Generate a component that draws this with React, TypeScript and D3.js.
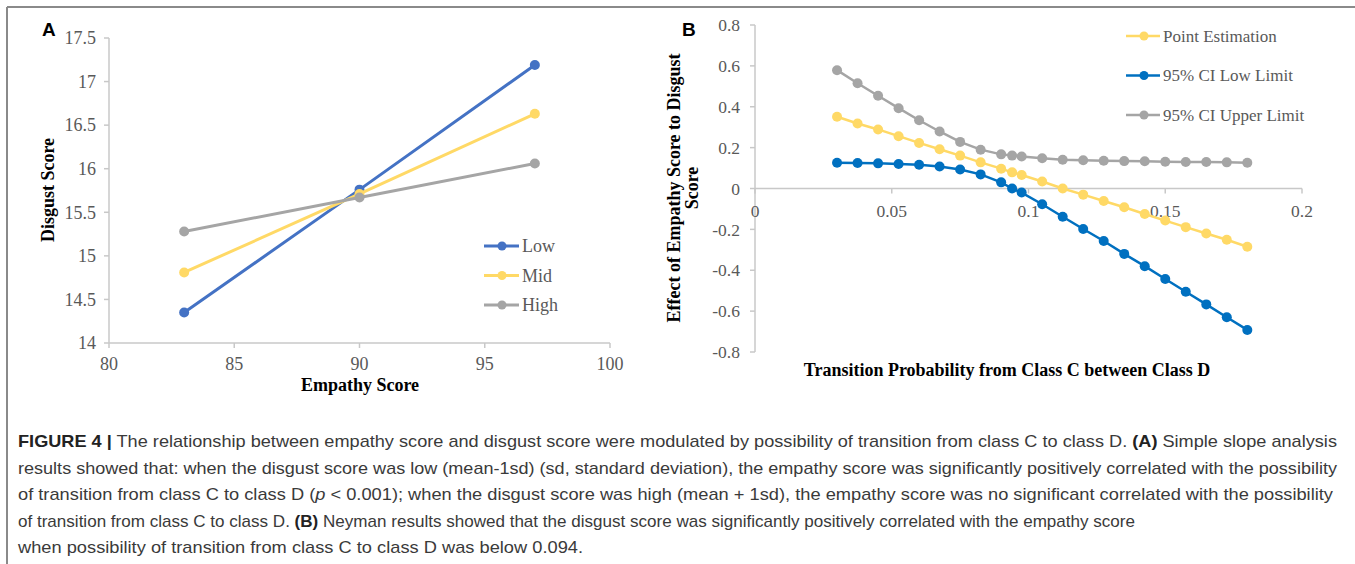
import React, { useEffect } from "react";
import * as d3 from "d3";

// panel A: simple slopes
const empathyX = [83, 90, 97];
const lowDisgust = [14.35, 15.76, 17.19];
const midDisgust = [14.81, 15.71, 16.63];
const highDisgust = [15.28, 15.67, 16.06];
const aXTicks = [80, 85, 90, 95, 100];
const aYTicks = [14, 14.5, 15, 15.5, 16, 16.5, 17, 17.5];

// panel B: Johnson-Neyman
const transProb = [
  0.03, 0.0375, 0.045, 0.0525, 0.06, 0.0675, 0.075, 0.0825, 0.09, 0.094, 0.0975,
  0.105, 0.1125, 0.12, 0.1275, 0.135, 0.1425, 0.15, 0.1575, 0.165, 0.1725, 0.18,
];
const pointEst = [
  0.351, 0.318, 0.289, 0.256, 0.223, 0.192, 0.161, 0.128, 0.097, 0.079, 0.066,
  0.034, 0.0, -0.03, -0.061, -0.092, -0.125, -0.157, -0.189, -0.22, -0.251, -0.285,
];
const ciLow = [
  0.126, 0.125, 0.123, 0.12, 0.116, 0.108, 0.093, 0.069, 0.03, 0.0, -0.02,
  -0.077, -0.138, -0.198, -0.257, -0.32, -0.38, -0.443, -0.505, -0.567, -0.63, -0.692,
];
const ciUpper = [
  0.579, 0.515, 0.454, 0.393, 0.334, 0.279, 0.228, 0.19, 0.167, 0.161, 0.157,
  0.148, 0.141, 0.138, 0.136, 0.134, 0.133, 0.131, 0.13, 0.13, 0.128, 0.126,
];
const bXTicks = [0, 0.05, 0.1, 0.15, 0.2];
const bYTicks = [-0.8, -0.6, -0.4, -0.2, 0, 0.2, 0.4, 0.6, 0.8];

const captionLines: [string, string][][] = [
  [
    ["FIGURE 4 |", "b"],
    [" The relationship between empathy score and disgust score were modulated by possibility of transition from class C to class D. ", "n"],
    ["(A)", "b"],
    [" Simple slope analysis", "n"],
  ],
  [["results showed that: when the disgust score was low (mean-1sd) (sd, standard deviation), the empathy score was significantly positively correlated with the possibility", "n"]],
  [
    ["of transition from class C to class D (", "n"],
    ["p", "i"],
    [" < 0.001); when the disgust score was high (mean + 1sd), the empathy score was no significant correlated with the possibility", "n"],
  ],
  [
    ["of transition from class C to class D. ", "n"],
    ["(B)", "b"],
    [" Neyman results showed that the disgust score was significantly positively correlated with the empathy score", "n"],
  ],
  [["when possibility of transition from class C to class D was below 0.094.", "n"]],
];
const captionEnds = [1337, 1337, 1333, 1135, 583];

const SERIF = "'Liberation Serif', 'Times New Roman', serif";
const SANS = "'Liberation Sans', Arial, sans-serif";
const AXIS = "#c8c8c8";
const TICK = "#595959";

const fmt = (v: number) => (v === 0 ? "0" : String(v));

export default function App() {
  useEffect(() => {
    document.body.style.margin = "0";
  }, []);

  // panel A scales
  const ax = d3.scaleLinear().domain([80, 100]).range([109, 610]);
  const ay = d3.scaleLinear().domain([14, 17.5]).range([343, 38]);
  const aLine = d3
    .line<number>()
    .x((_, i) => ax(empathyX[i]))
    .y((d) => ay(d));
  const aSeries = [
    { name: "Low", values: lowDisgust, color: "#4472c4" },
    { name: "Mid", values: midDisgust, color: "#ffd966" },
    { name: "High", values: highDisgust, color: "#a5a5a5" },
  ];

  // panel B scales
  const bx = d3.scaleLinear().domain([0, 0.2]).range([755, 1302]);
  const by = d3.scaleLinear().domain([-0.8, 0.8]).range([352, 25]);
  const bLine = d3
    .line<number>()
    .x((_, i) => bx(transProb[i]))
    .y((d) => by(d));
  const bSeries = [
    { name: "Point Estimation", values: pointEst, color: "#ffd966" },
    { name: "95% CI Low Limit", values: ciLow, color: "#0070c0" },
    { name: "95% CI Upper Limit", values: ciUpper, color: "#a5a5a5" },
  ];

  return (
    <svg width={1355} height={564} style={{ display: "block", background: "#fff" }}>
      {/* frame */}
      <line x1={7} y1={7} x2={1355} y2={7} stroke="#8a8a8a" strokeWidth={2} />
      <line x1={7} y1={7} x2={7} y2={564} stroke="#8a8a8a" strokeWidth={2} />

      {/* ---------- panel A ---------- */}
      <text x={42} y={36} fontFamily={SANS} fontWeight="bold" fontSize={19} fill="#000">A</text>
      <line x1={ax(80)} y1={ay(17.5)} x2={ax(80)} y2={ay(14)} stroke={AXIS} strokeWidth={1.5} />
      <line x1={ax(80)} y1={ay(14)} x2={ax(100)} y2={ay(14)} stroke={AXIS} strokeWidth={1.5} />
      {aYTicks.map((t) => (
        <g key={"ay" + t}>
          <line x1={ax(80) - 5} x2={ax(80)} y1={ay(t)} y2={ay(t)} stroke={AXIS} strokeWidth={1.5} />
          <text x={ax(80) - 13} y={ay(t)} dy="0.35em" textAnchor="end" fontFamily={SERIF} fontSize={18} fill={TICK}>
            {t}
          </text>
        </g>
      ))}
      {aXTicks.map((t) => (
        <g key={"ax" + t}>
          <line x1={ax(t)} x2={ax(t)} y1={ay(14)} y2={ay(14) + 5} stroke={AXIS} strokeWidth={1.5} />
          <text x={ax(t)} y={364} dy="0.35em" textAnchor="middle" fontFamily={SERIF} fontSize={18} fill={TICK}>
            {t}
          </text>
        </g>
      ))}
      <text x={360} y={385} dy="0.35em" textAnchor="middle" fontFamily={SERIF} fontWeight="bold" fontSize={18} fill="#000">
        Empathy Score
      </text>
      <text transform="translate(48,190) rotate(-90)" dy="0.35em" textAnchor="middle" fontFamily={SERIF} fontWeight="bold" fontSize={18} fill="#000">
        Disgust Score
      </text>
      {aSeries.map((s) => (
        <g key={s.name}>
          <path d={aLine(s.values) || ""} fill="none" stroke={s.color} strokeWidth={3} />
          {s.values.map((v, i) => (
            <circle key={i} cx={ax(empathyX[i])} cy={ay(v)} r={5} fill={s.color} />
          ))}
        </g>
      ))}
      {aSeries.map((s, i) => {
        const y = 246 + i * 29.5;
        return (
          <g key={"leg" + s.name}>
            <line x1={484} x2={519} y1={y} y2={y} stroke={s.color} strokeWidth={3} />
            <circle cx={502} cy={y} r={4.5} fill={s.color} />
            <text x={522} y={y} dy="0.35em" fontFamily={SERIF} fontSize={18} fill={TICK}>
              {s.name}
            </text>
          </g>
        );
      })}

      {/* ---------- panel B ---------- */}
      <text x={682} y={36} fontFamily={SANS} fontWeight="bold" fontSize={19} fill="#000">B</text>
      <line x1={bx(0)} y1={by(0.8)} x2={bx(0)} y2={by(-0.8)} stroke={AXIS} strokeWidth={1.5} />
      <line x1={bx(0)} y1={by(0)} x2={bx(0.2)} y2={by(0)} stroke={AXIS} strokeWidth={1.5} />
      {bYTicks.map((t) => (
        <g key={"by" + t}>
          <line x1={bx(0) - 5} x2={bx(0)} y1={by(t)} y2={by(t)} stroke={AXIS} strokeWidth={1.5} />
          <text x={bx(0) - 15} y={by(t)} dy="0.35em" textAnchor="end" fontFamily={SERIF} fontSize={17.5} fill={TICK}>
            {fmt(t)}
          </text>
        </g>
      ))}
      {bXTicks.map((t) => (
        <g key={"bx" + t}>
          <line x1={bx(t)} x2={bx(t)} y1={by(0)} y2={by(0) + 5} stroke={AXIS} strokeWidth={1.5} />
          <text x={bx(t)} y={211} dy="0.35em" textAnchor="middle" fontFamily={SERIF} fontSize={17.5} fill={TICK}>
            {fmt(t)}
          </text>
        </g>
      ))}
      <text x={1007} y={370} dy="0.35em" textAnchor="middle" fontFamily={SERIF} fontWeight="bold" fontSize={18} fill="#000">
        Transition Probability from Class C between Class D
      </text>
      <text transform="translate(674,188) rotate(-90)" dy="0.35em" textAnchor="middle" fontFamily={SERIF} fontWeight="bold" fontSize={18} fill="#000">
        Effect of Empathy Score to Disgust
      </text>
      <text transform="translate(692,188) rotate(-90)" dy="0.35em" textAnchor="middle" fontFamily={SERIF} fontWeight="bold" fontSize={18} fill="#000">
        Score
      </text>
      {bSeries.map((s) => (
        <g key={s.name}>
          <path d={bLine(s.values) || ""} fill="none" stroke={s.color} strokeWidth={2.5} />
          {s.values.map((v, i) => (
            <circle key={i} cx={bx(transProb[i])} cy={by(v)} r={5} fill={s.color} />
          ))}
        </g>
      ))}
      {bSeries.map((s, i) => {
        const y = 36 + i * 39.5;
        return (
          <g key={"legB" + s.name}>
            <line x1={1126} x2={1160} y1={y} y2={y} stroke={s.color} strokeWidth={2.5} />
            <circle cx={1144} cy={y} r={4.5} fill={s.color} />
            <text x={1163} y={y} dy="0.35em" fontFamily={SERIF} fontSize={17} fill={TICK}>
              {s.name}
            </text>
          </g>
        );
      })}

      {/* ---------- caption ---------- */}
      {captionLines.map((segs, li) => (
        <text
          key={"cap" + li}
          x={18}
          y={447 + li * 26.6}
          fontFamily={SANS}
          fontSize={17}
          fill="#3a3a3a"
          textLength={captionEnds[li] - 18}
          lengthAdjust="spacingAndGlyphs"
        >
          {segs.map(([txt, st], si) => (
            <tspan
              key={si}
              fontWeight={st === "b" ? "bold" : "normal"}
              fontStyle={st === "i" ? "italic" : "normal"}
              fill={st === "b" ? "#222" : "#3a3a3a"}
            >
              {txt}
            </tspan>
          ))}
        </text>
      ))}
    </svg>
  );
}
